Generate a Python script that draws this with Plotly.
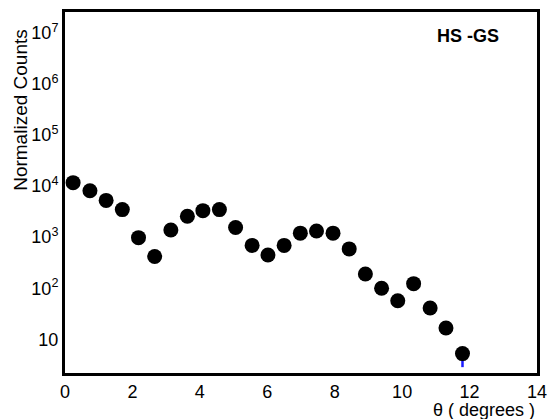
import plotly.graph_objects as go

theta = [0.24, 0.74, 1.22, 1.70, 2.18, 2.66, 3.14, 3.63, 4.09, 4.58, 5.06, 5.55,
         6.02, 6.50, 6.98, 7.46, 7.95, 8.43, 8.91, 9.39, 9.87, 10.34, 10.83, 11.30, 11.79]
counts = [11700, 8100, 5250, 3470, 980, 417, 1380, 2570, 3310, 3470, 1550, 690,
          447, 690, 1200, 1320, 1200, 590, 190, 100, 57, 123, 41, 16.6, 5.25]
err_minus = [0]*24 + [2.4]

ytick_vals = [10, 100, 1000, 10000, 100000, 1000000, 10000000]
ytick_text = ["10", "10<sup>2</sup>", "10<sup>3</sup>", "10<sup>4</sup>",
              "10<sup>5</sup>", "10<sup>6</sup>", "10<sup>7</sup>"]
xtick_vals = [0, 2, 4, 6, 8, 10, 12, 14]

font = "Liberation Sans, Arial, Helvetica, sans-serif"

fig = go.Figure()
fig.add_trace(go.Scatter(
    x=theta, y=counts, mode="markers",
    marker=dict(size=15, color="black"),
    error_y=dict(type="data", symmetric=False, array=[0]*len(theta), arrayminus=err_minus,
                 color="#1a1aff", thickness=2.5, width=0),
    showlegend=False,
))

fig.update_layout(
    width=556, height=419,
    margin=dict(l=65, r=11, t=9, b=46),
    paper_bgcolor="white", plot_bgcolor="white",
    font=dict(family=font, size=18, color="black"),
    xaxis=dict(range=[0, 14], tickvals=xtick_vals, showgrid=False, zeroline=False,
               showline=True, linecolor="black", linewidth=3, mirror=True,
               ticks="", tickfont=dict(size=18)),
    yaxis=dict(type="log", range=[0.34, 7.41], tickvals=ytick_vals, ticktext=ytick_text,
               showgrid=False, zeroline=False, showline=True, linecolor="black",
               linewidth=3, mirror=True, ticks="", tickfont=dict(size=18)),
    annotations=[
        dict(text="Normalized Counts", xref="paper", yref="paper", x=-0.094, y=0.728,
             xanchor="center", yanchor="middle", textangle=-90, showarrow=False,
             font=dict(size=19)),
        dict(text="θ ( degrees )", xref="paper", yref="paper", x=1.0, y=0,
             xanchor="right", yanchor="top", yshift=-25, showarrow=False,
             font=dict(size=18)),
        dict(text="<b>HS -GS</b>", xref="paper", yref="paper", x=0.854, y=0.934,
             xanchor="center", yanchor="middle", showarrow=False, font=dict(size=18)),
    ],
)

fig.write_html("out.html")
